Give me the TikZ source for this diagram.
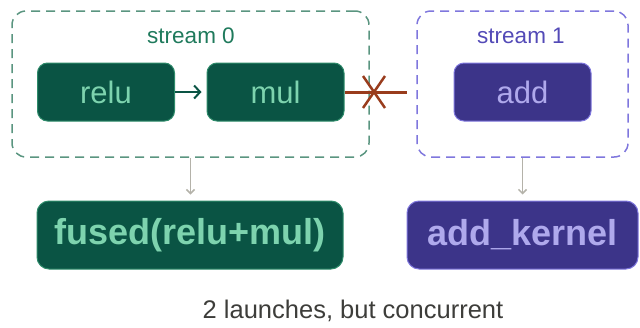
\documentclass[tikz,border=0pt]{standalone}
\usepackage{fontspec}
\setmainfont{Liberation Sans}
\usetikzlibrary{arrows.meta}

\definecolor{gfill}{HTML}{0A5444}
\definecolor{gtext}{HTML}{7DD3AE}
\definecolor{gedge}{HTML}{2E8B6A}
\definecolor{gdash}{HTML}{5A9580}
\definecolor{glabel}{HTML}{1F7A5C}
\definecolor{pfill}{HTML}{3C3489}
\definecolor{ptext}{HTML}{AFA9EC}
\definecolor{pedge}{HTML}{7F77DD}
\definecolor{pdash}{HTML}{7F77DD}
\definecolor{plabel}{HTML}{534AB7}
\definecolor{blocked}{HTML}{993C1D}
\definecolor{flow}{HTML}{B4B2A9}
\definecolor{note}{HTML}{3D3D3A}

\tikzset{
  streambox/.style={draw=#1, line width=1.5pt, dash pattern=on 9pt off 6pt,
    rounded corners=14pt, inner sep=0pt},
  streamlabel/.style={text=#1, font=\fontsize{22.5}{26}\selectfont},
  opbox/.style n args={3}{fill=#1, draw=#2, text=#3, line width=1pt,
    rounded corners=10pt, minimum width=137pt, minimum height=58pt,
    inner sep=0pt, font=\fontsize{31}{36}\selectfont},
  kernelbox/.style n args={3}{fill=#1, draw=#2, text=#3, line width=1pt,
    rounded corners=12pt, minimum height=68pt, inner sep=0pt,
    font=\fontsize{36}{42}\selectfont\bfseries},
  flowarrow/.style={draw=flow, line width=1.5pt,
    -{Straight Barb[length=4pt,width=8pt]}, shorten >=6pt},
}

\begin{document}
\begin{tikzpicture}[x=1pt, y=-1pt]
  \useasboundingbox (0,0) rectangle (640,327);

  % stream containers
  \node[streambox=gdash, minimum width=357pt, minimum height=146pt] (s0) at (190.5,84) {};
  \node[streambox=pdash, minimum width=211pt, minimum height=146pt] (s1) at (522.5,84) {};
  \node[streamlabel=glabel] (s0lab) at (191,36) {stream 0};
  \node[streamlabel=plabel] (s1lab) at (521,36) {stream 1};

  % operations
  \node[opbox={gfill}{gedge}{gtext}] (relu) at (106,92) {relu};
  \node[opbox={gfill}{gedge}{gtext}] (mul) at (275.5,92) {mul};
  \node[opbox={pfill}{pedge}{ptext}] (add) at (522.5,92) {add};

  \draw[draw=gfill, line width=2pt, -{Straight Barb[length=6pt,width=13pt]},
        shorten >=5pt] (relu) -- (mul);

  % blocked dependency between streams
  \coordinate (cut) at (374,92);
  \coordinate (cutend) at (407,92);
  \draw[blocked, line width=3pt] (mul.east) -- (cutend);
  \draw[blocked, line width=2.5pt] ([shift={(-11,-16)}]cut) -- ([shift={(11,16)}]cut);
  \draw[blocked, line width=2.5pt] ([shift={(11,-16)}]cut) -- ([shift={(-11,16)}]cut);

  % launched kernels
  \node[kernelbox={gfill}{gedge}{gtext}, minimum width=306pt] (fused) at (190,235) {fused(relu+mul)};
  \node[kernelbox={pfill}{pedge}{ptext}, minimum width=231pt] (addk) at (522.5,235) {add\_kernel};

  \draw[flowarrow] (s0.south) -- (s0.south |- fused.north);
  \draw[flowarrow] (s1.south) -- (s1.south |- addk.north);

  \node[text=note, font=\fontsize{25.5}{30}\selectfont] (summary) at (353,311) {2 launches, but concurrent};
\end{tikzpicture}
\end{document}
